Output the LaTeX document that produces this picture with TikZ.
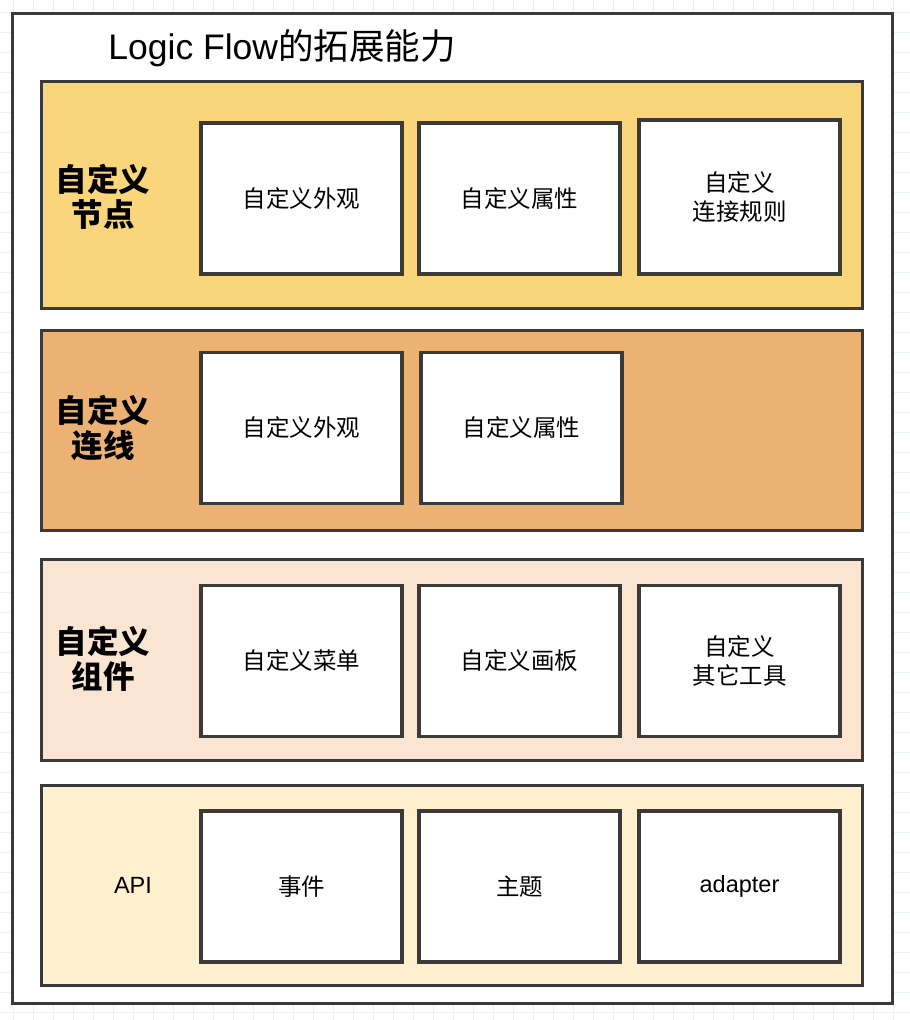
\documentclass[tikz,border=0pt]{standalone}
\usepackage{fontspec}
\setmainfont{Liberation Sans}
\newfontfamily\cjk{Noto Sans CJK SC}
\usetikzlibrary{positioning}
\definecolor{Frame}{HTML}{3A3A3A}
\definecolor{Grid}{HTML}{EEF0F7}
\definecolor{NodeBand}{HTML}{F9D67B}
\definecolor{EdgeBand}{HTML}{ECB274}
\definecolor{PartBand}{HTML}{FAE5D3}
\definecolor{ApiBand}{HTML}{FFF1D0}
\tikzset{
band/.style={rectangle,draw=Frame,line width=3pt,minimum width=821pt},
item/.style={rectangle,draw=Frame,line width=3.5pt,fill=white,minimum width=201pt,minimum height=151pt,align=center,font=\fontsize{23.5}{29}\selectfont},
head/.style={align=center,font=\fontsize{31.5}{35}\selectfont\cjk\bfseries}
}

\begin{document}
\begin{tikzpicture}[x=1pt,y=-1pt]
    \useasboundingbox (0,0) rectangle (910,1020);
    \foreach \gx in {13,33,...,893} \draw[Grid] (\gx,0) -- (\gx,1020);
    \foreach \gy in {12,32,...,1012} \draw[Grid] (0,\gy) -- (910,\gy);

    \node[draw=Frame,line width=3pt,fill=white,minimum width=880pt,minimum height=990pt] (frame) at (452,508) {};
    \node[font=\fontsize{35.5}{40}\selectfont] (title) at (282,48) {Logic Flow{\cjk 的拓展能力}};

    \node[band,fill=NodeBand,minimum height=227pt] (nodes) at (451.5,194.5) {};
    \node[band,fill=EdgeBand,minimum height=200pt] (edges) at (451.5,430) {};
    \node[band,fill=PartBand,minimum height=201pt] (parts) at (451.5,659.5) {};
    \node[band,fill=ApiBand,minimum height=200pt] (apis) at (451.5,885.5) {};

    \node[head] (nodeshead) at (103,197) {自定义\\节点};
    \node[head] (edgeshead) at (103,428) {自定义\\连线};
    \node[head] (partshead) at (103,659) {自定义\\组件};
    \node[font=\fontsize{23.5}{29}\selectfont] (apishead) at (133,885) {API};

    \node[item] (nodelook) at (301.5,198.5) {\cjk 自定义外观};
    \node[item] (nodeprop) at (519.5,198.5) {\cjk 自定义属性};
    \node[item,minimum height=154pt] (noderule) at (739.5,197) {\cjk 自定义\\\cjk 连接规则};

    \node[item] (edgelook) at (301.5,428) {\cjk 自定义外观};
    \node[item] (edgeprop) at (521.5,428) {\cjk 自定义属性};

    \node[item] (partmenu) at (301.5,661) {\cjk 自定义菜单};
    \node[item] (partcanvas) at (519.5,661) {\cjk 自定义画板};
    \node[item] (parttool) at (739.5,661) {\cjk 自定义\\\cjk 其它工具};

    \node[item] (apievent) at (301.5,886.5) {\cjk 事件};
    \node[item] (apitheme) at (519.5,886.5) {\cjk 主题};
    \node[item] (apiadapter) at (739.5,886.5) {adapter};
\end{tikzpicture}
\end{document}
